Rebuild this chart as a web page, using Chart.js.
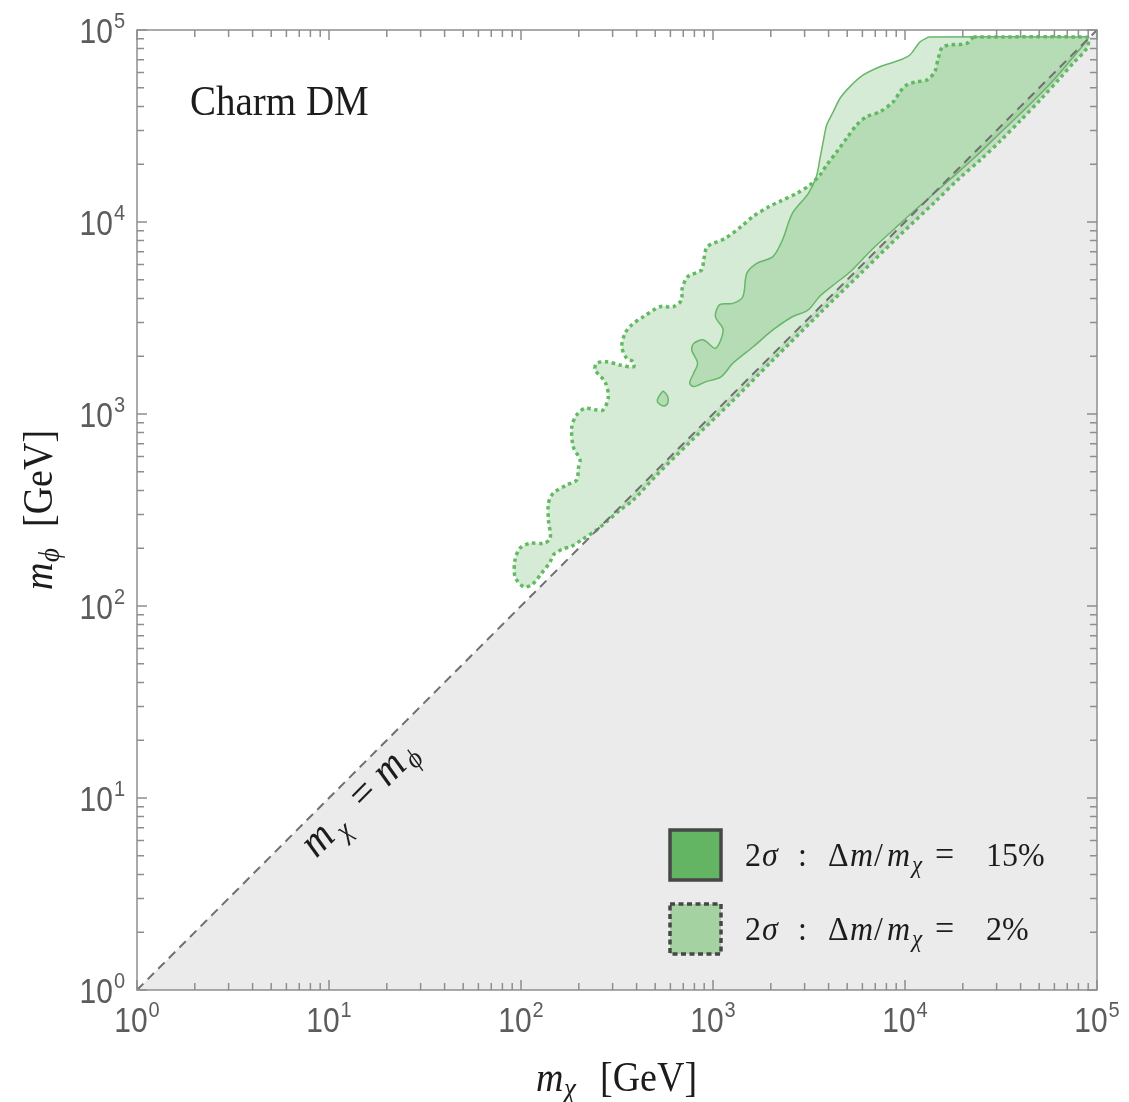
<!DOCTYPE html>
<html>
<head>
<meta charset="utf-8">
<title>Charm DM</title>
<script src="https://cdn.jsdelivr.net/npm/chart.js@4.4.1/dist/chart.umd.min.js"></script>
<style>
  html, body { margin: 0; padding: 0; background: #ffffff; }
  #wrap { width: 1129px; height: 1102px; }
</style>
</head>
<body>
<div id="wrap"><canvas id="chart" width="1129" height="1102"></canvas></div>
<script>
// ---- axis range and decade tick labels (both axes in GeV, log scale) ----
const axisMin = 1;
const axisMax = 1e5;
const decadeExponents = [0, 1, 2, 3, 4, 5];
const minorMultipliers = [2, 3, 4, 5, 6, 7, 8, 9];

// ---- kinematically closed region, m_phi < m_chi ----
const lowerRegionX = [1, 1e5, 1e5];
const lowerRegionY = [1, 1e5, 1];

// ---- m_chi = m_phi reference line ----
const diagonalX = [1, 1e5];
const diagonalY = [1, 1e5];

// ---- 2 sigma region, Delta m / m_chi = 15 % (solid outline) ----
const contour15X = [1.33e4, 8.16e4, 9.0e4, 7.68e4, 5.69e4, 3.97e4, 3.13e4, 2.32e4, 1.72e4, 1.35e4,
                    1.06e4, 8350, 6690, 5170, 4370, 3610, 3130, 2590, 2050, 1620,
                    1270, 1100, 914, 793, 756, 793, 831, 775, 793, 894,
                    1030, 1130, 1030, 1080, 1270, 1430, 1500, 1690, 2050, 2300,
                    2590, 3140, 3450, 3610, 3750, 3910, 4230, 4590, 5170, 6060,
                    7410, 9420, 1.06e4, 1.20e4];
const contour15Y = [9.2e4, 9.2e4, 9.1e4, 7.41e4, 5.23e4, 3.65e4, 2.91e4, 2.18e4, 1.67e4, 1.35e4,
                    1.09e4, 8770, 7150, 5490, 4810, 4120, 3480, 3210, 2740, 2240,
                    1840, 1560, 1470, 1390, 1450, 1630, 1840, 2150, 2330, 2430,
                    2200, 2740, 3210, 3700, 3770, 4080, 5400, 6090, 6600, 8060,
                    1.11e4, 1.41e4, 1.72e4, 2.15e4, 2.62e4, 3.20e4, 3.75e4, 4.41e4, 5.07e4, 5.83e4,
                    6.44e4, 6.98e4, 7.41e4, 8.69e4];

// small detached 15 % island
const island15X = [551, 581, 581, 551, 519, 513, 530];
const island15Y = [1320, 1230, 1140, 1100, 1140, 1180, 1260];

// ---- 2 sigma region, Delta m / m_chi = 2 % (dotted outline) ----
const contour2X = [2.27e4, 8.16e4, 9.0e4, 8.84e4, 7.50e4, 6.42e4, 5.05e4, 3.97e4, 3.13e4, 2.46e4,
                   1.93e4, 1.43e4, 9420, 5830, 3610, 2050, 1230, 759, 509, 385,
                   328, 279, 248, 207, 184, 163, 147, 142, 128, 114,
                   103, 93.1, 93.1, 98.8, 111, 131, 142, 139, 139, 147,
                   173, 195, 199, 203, 187, 184, 195, 215, 248, 268,
                   285, 274, 243, 248, 279, 328, 385, 385, 355, 335,
                   348, 377, 434, 530, 621, 687, 688, 738, 872, 894,
                   936, 1160, 1400, 1620, 1950, 2230, 2730, 3200, 3610, 3910,
                   4410, 4970, 5600, 6320, 7410, 8690, 9420, 1.02e4, 1.15e4, 1.30e4,
                   1.43e4, 1.49e4, 1.58e4, 2.10e4];
const contour2Y = [9.2e4, 9.2e4, 9.1e4, 8.03e4, 6.71e4, 5.62e4, 4.32e4, 3.36e4, 2.64e4, 2.10e4,
                   1.70e4, 1.27e4, 8560, 5360, 3360, 1910, 1140, 715, 481, 357,
                   316, 275, 249, 221, 205, 197, 184, 170, 148, 129,
                   126, 142, 174, 200, 212, 212, 225, 280, 343, 386,
                   427, 453, 523, 576, 676, 859, 988, 1070, 1050, 1050,
                   1230, 1470, 1700, 1840, 1870, 1800, 1760, 1870, 1950, 2240,
                   2630, 2910, 3210, 3620, 3620, 3920, 4420, 5190, 5620, 6340,
                   7440, 8230, 9450, 1.07e4, 1.20e4, 1.28e4, 1.41e4, 1.56e4, 1.76e4, 1.98e4,
                   2.32e4, 2.73e4, 3.20e4, 3.54e4, 3.75e4, 4.23e4, 4.77e4, 5.17e4, 5.38e4, 5.49e4,
                   6.07e4, 7.12e4, 8.19e4, 8.53e4];

// ---- legend entries ----
const legendValues = ['15%', '2%'];

// ---- styling ----
const serif = '"Liberation Serif", "Times New Roman", "DejaVu Serif", serif';
const sans = '"Liberation Sans", Arial, "DejaVu Sans", sans-serif';
const greenFill = 'rgba(100, 180, 100, 0.27)';
const solidGreen = 'rgb(104, 182, 104)';
const dotGreen = 'rgb(98, 186, 98)';
const frameGray = '#8e8e8e';
const ink = '#1c1c1c';
const tickInk = '#5c5c5c';

const toPoints = (xs, ys) => xs.map((x, i) => ({ x: x, y: ys[i] }));
const closedPoints = (xs, ys) => {
  const p = toPoints(xs, ys);
  p.push({ x: xs[0], y: ys[0] });
  return p;
};

// fills a dataset's outline (straight or bezier) before its border is stroked
function fillOutline(chart, meta, color) {
  const pts = meta.data;
  if (!pts || pts.length < 3) return;
  const ctx = chart.ctx;
  const a = chart.chartArea;
  if (meta.dataset && meta.dataset.updateControlPoints) {
    meta.dataset.updateControlPoints(a, 'x');
  }
  ctx.save();
  ctx.beginPath();
  ctx.rect(a.left, a.top, a.right - a.left, a.bottom - a.top);
  ctx.clip();
  ctx.beginPath();
  ctx.moveTo(pts[0].x, pts[0].y);
  for (let i = 1; i < pts.length; i++) {
    const p = pts[i], q = pts[i - 1];
    if (q.cp2x !== undefined && p.cp1x !== undefined) {
      ctx.bezierCurveTo(q.cp2x, q.cp2y, p.cp1x, p.cp1y, p.x, p.y);
    } else {
      ctx.lineTo(p.x, p.y);
    }
  }
  ctx.closePath();
  ctx.fillStyle = color;
  ctx.fill();
  ctx.restore();
}

// text with an optional vertical stretch about its baseline
function text(ctx, str, x, y, font, color, sy) {
  ctx.save();
  ctx.font = font;
  ctx.fillStyle = color;
  ctx.translate(x, y);
  ctx.scale(1, sy || 1);
  ctx.fillText(str, 0, 0);
  ctx.restore();
}

function powerLabel(ctx, exp, anchorX, baseY, mode) {
  ctx.font = '30px ' + sans;
  const wb = ctx.measureText('10').width;
  ctx.font = '20px ' + sans;
  const we = ctx.measureText(exp).width;
  const x0 = mode === 'center' ? anchorX - (wb + we + 1) / 2 : anchorX - wb - we - 1;
  text(ctx, '10', x0, baseY, '30px ' + sans, tickInk, 1.14);
  text(ctx, exp, x0 + wb + 1, baseY - 15, '20px ' + sans, tickInk, 1.14);
}

const decorations = {
  id: 'decorations',
  beforeDraw(chart) {
    const ctx = chart.ctx;
    ctx.save();
    ctx.fillStyle = '#ffffff';
    ctx.fillRect(0, 0, chart.width, chart.height);
    ctx.restore();
  },
  beforeDatasetDraw(chart, args) {
    const ds = chart.data.datasets[args.index];
    if (ds.areaColor) fillOutline(chart, args.meta, ds.areaColor);
  },
  afterDatasetsDraw(chart) {
    const ctx = chart.ctx;
    const a = chart.chartArea;
    const xs = chart.scales.x, ys = chart.scales.y;
    ctx.save();
    ctx.strokeStyle = frameGray;
    ctx.lineWidth = 1.5;
    ctx.beginPath();
    const major = 10, minor = 7;
    decadeExponents.forEach((k, idx) => {
      const values = [{ v: Math.pow(10, k), len: major }];
      if (idx < decadeExponents.length - 1) {
        minorMultipliers.forEach(m => values.push({ v: m * Math.pow(10, k), len: minor }));
      }
      values.forEach(({ v, len }) => {
        const px = xs.getPixelForValue(v);
        const py = ys.getPixelForValue(v);
        ctx.moveTo(px, a.bottom); ctx.lineTo(px, a.bottom - len);
        ctx.moveTo(px, a.top); ctx.lineTo(px, a.top + len);
        ctx.moveTo(a.left, py); ctx.lineTo(a.left + len, py);
        ctx.moveTo(a.right, py); ctx.lineTo(a.right - len, py);
      });
    });
    ctx.stroke();
    ctx.strokeRect(a.left, a.top, a.right - a.left, a.bottom - a.top);
    ctx.restore();
  },
  afterDraw(chart) {
    const ctx = chart.ctx;
    const a = chart.chartArea;
    const xs = chart.scales.x, ys = chart.scales.y;
    ctx.save();
    ctx.textBaseline = 'alphabetic';
    ctx.textAlign = 'left';

    // decade labels
    decadeExponents.forEach(k => {
      const v = Math.pow(10, k);
      powerLabel(ctx, String(k), xs.getPixelForValue(v), a.bottom + 42, 'center');
      powerLabel(ctx, String(k), a.left - 12, ys.getPixelForValue(v) + 13, 'right');
    });

    const F = 38, S = 1.12;
    // x-axis title
    text(ctx, 'm', 536, 1091, 'italic ' + F + 'px ' + serif, ink, S);
    text(ctx, 'χ', 564, 1098, 'italic 27px ' + serif, ink, S);
    text(ctx, '[GeV]', 600, 1091, F + 'px ' + serif, ink, S);

    // y-axis title (stretch acts across the rotated baseline)
    ctx.save();
    ctx.translate(52, 590);
    ctx.rotate(-Math.PI / 2);
    text(ctx, 'm', 0, 0, 'italic ' + F + 'px ' + serif, ink, S);
    text(ctx, 'ϕ', 28, 7, 'italic 27px ' + serif, ink, S);
    text(ctx, '[GeV]', 63, 0, F + 'px ' + serif, ink, S);
    ctx.restore();

    // panel title
    text(ctx, 'Charm DM', 190, 115, '39px ' + serif, ink, 1.06);

    // label along the m_chi = m_phi line
    const p0x = xs.getPixelForValue(axisMin), p0y = ys.getPixelForValue(axisMin);
    const p1x = xs.getPixelForValue(axisMax), p1y = ys.getPixelForValue(axisMax);
    const ang = Math.atan2(p1y - p0y, p1x - p0x);
    const nx = -Math.sin(ang), ny = Math.cos(ang);
    const gap = 34;
    const t = (300 - nx * gap - p0x) / (p1x - p0x);
    ctx.save();
    // baseline runs parallel to the dashed line, a fixed gap below it
    ctx.translate(p0x + t * (p1x - p0x) + nx * gap, p0y + t * (p1y - p0y) + ny * gap);
    ctx.rotate(ang);
    text(ctx, 'm', 23, 0, 'italic 40px ' + serif, ink, 1.08);
    text(ctx, 'χ', 57, 8, 'italic 26px ' + serif, ink, 1.08);
    text(ctx, '=', 91, 0, '40px ' + serif, ink, 1.08);
    text(ctx, 'm', 124, 0, 'italic 40px ' + serif, ink, 1.08);
    text(ctx, 'ϕ', 156, 7, 'italic 26px ' + serif, ink, 1.08);
    ctx.restore();

    // legend
    const boxes = [
      { y: 830, fill: '#63b463', dash: [] },
      { y: 904, fill: '#a4d3a1', dash: [5, 3.5] }
    ];
    boxes.forEach((b, i) => {
      ctx.save();
      ctx.fillStyle = b.fill;
      ctx.fillRect(670, b.y, 51, 50);
      ctx.strokeStyle = '#474747';
      ctx.lineWidth = 3.5;
      ctx.setLineDash(b.dash);
      ctx.strokeRect(670, b.y, 51, 50);
      ctx.restore();
      const by = b.y + 36;
      const up = '32px ' + serif, it = 'italic 32px ' + serif, sub = 'italic 23px ' + serif;
      text(ctx, '2', 745, by, up, ink, 1.05);
      text(ctx, 'σ', 762, by, it, ink, 1.05);
      text(ctx, ':', 798, by, up, ink, 1.05);
      text(ctx, 'Δ', 828, by, up, ink, 1.05);
      text(ctx, 'm', 850, by, it, ink, 1.05);
      text(ctx, '/', 874, by, up, ink, 1.05);
      text(ctx, 'm', 887, by, it, ink, 1.05);
      text(ctx, 'χ', 912, by + 7, sub, ink, 1.05);
      text(ctx, '=', 935, by, '34px ' + serif, ink, 1.05);
      text(ctx, legendValues[i], 986, by, up, ink, 1.05);
    });
    ctx.restore();
  }
};

const chart = new Chart(document.getElementById('chart'), {
  type: 'scatter',
  data: {
    datasets: [
      {
        label: 'm_chi = m_phi',
        data: toPoints(diagonalX, diagonalY),
        showLine: true,
        borderColor: '#707070',
        borderWidth: 2,
        borderDash: [9, 6],
        pointRadius: 0,
        order: 1
      },
      {
        label: '2σ : Δm/mχ = 15% (island)',
        data: closedPoints(island15X, island15Y),
        showLine: true,
        borderColor: solidGreen,
        borderWidth: 1.5,
        tension: 0.45,
        pointRadius: 0,
        areaColor: greenFill,
        order: 3
      },
      {
        label: '2σ : Δm/mχ = 15%',
        data: closedPoints(contour15X, contour15Y),
        showLine: true,
        borderColor: solidGreen,
        borderWidth: 1.5,
        tension: 0.3,
        pointRadius: 0,
        areaColor: greenFill,
        order: 3
      },
      {
        label: '2σ : Δm/mχ = 2%',
        data: closedPoints(contour2X, contour2Y),
        showLine: true,
        borderColor: dotGreen,
        borderWidth: 3.5,
        borderDash: [3.5, 3.5],
        tension: 0.3,
        pointRadius: 0,
        areaColor: greenFill,
        order: 4
      },
      {
        label: 'm_phi < m_chi',
        data: closedPoints(lowerRegionX, lowerRegionY),
        showLine: false,
        pointRadius: 0,
        areaColor: '#ebebeb',
        order: 9
      }
    ]
  },
  options: {
    responsive: false,
    devicePixelRatio: 1,
    animation: false,
    events: [],
    layout: { padding: { left: 137, right: 32, top: 30, bottom: 112 } },
    scales: {
      x: { type: 'logarithmic', min: axisMin, max: axisMax, display: false },
      y: { type: 'logarithmic', min: axisMin, max: axisMax, display: false }
    },
    plugins: {
      legend: { display: false },
      tooltip: { enabled: false }
    }
  },
  plugins: [decorations]
});
</script>
</body>
</html>
